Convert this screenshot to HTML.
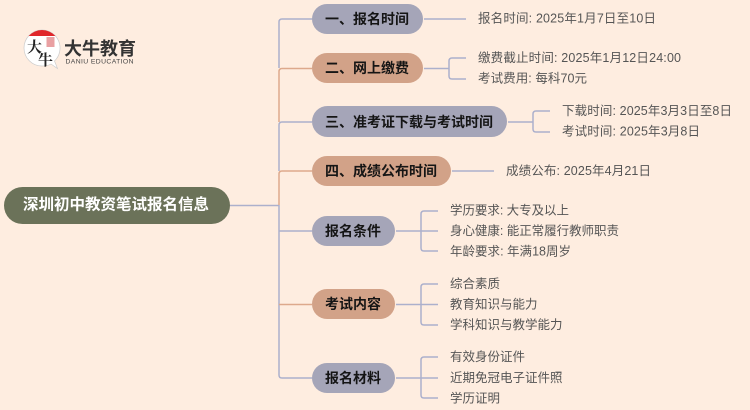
<!DOCTYPE html>
<html lang="zh"><head><meta charset="utf-8"><style>
html,body{margin:0;padding:0;background:#FEEDE0}
svg{display:block;filter:blur(.3px)}
text{font-family:"Liberation Sans","Noto Sans CJK SC",sans-serif}
.t{font-size:12.5px;fill:#555;dominant-baseline:central}
.b{font-size:14px;font-weight:700;fill:#151515;dominant-baseline:central}
.g{fill:none;stroke:#ACB0CC;stroke-width:1.5}
.o{fill:none;stroke:#DDA98C;stroke-width:1.5}
</style></head><body>
<svg width="750" height="410" viewBox="0 0 750 410" xmlns="http://www.w3.org/2000/svg">
<rect width="750" height="410" fill="#FEEDE0"/>
<path class="g" d="M230 205.500H279"/>
<path class="g" d="M312 19H282Q279 19 279 22V68"/>
<path class="o" d="M312 68.500H282Q279 68.500 279 71.500V122"/>
<path class="g" d="M312 122H282Q279 122 279 125V171"/>
<path class="o" d="M312 171H282Q279 171 279 174V205"/>
<path class="g" d="M279 205V375Q279 378 282 378H312M279 231H312"/>
<path class="o" d="M279 304.500H312"/>
<path class="g" d="M424 19H466M424 68.500H449M466 58H452Q449 58 449 61V76Q449 79 452 79H466"/>
<path class="g" d="M508 122H533M550 111H536Q533 111 533 114V129Q533 132 536 132H550"/>
<path class="g" d="M452 171H494"/>
<path class="g" d="M396 231H438M438 211H424Q421 211 421 214V248Q421 251 424 251H438"/>
<path class="g" d="M396 304.500H438M438 284H424Q421 284 421 287V322Q421 325 424 325H438"/>
<path class="g" d="M396 378H438M438 357H424Q421 357 421 360V395Q421 398 424 398H438"/>
<rect x="4" y="187" width="226" height="37" rx="18.500" fill="#6B7259"/>
<text x="23" y="205" dominant-baseline="central" font-size="15.500" font-weight="700" fill="#fff">深圳初中教资笔试报名信息</text>
<rect x="312" y="4" width="111" height="30" rx="15" fill="#A5A5B8"/>
<rect x="312" y="53" width="111" height="30" rx="15" fill="#D2A288"/>
<rect x="312" y="106" width="195" height="31" rx="15.500" fill="#A5A5B8"/>
<rect x="312" y="156" width="139" height="30" rx="15" fill="#D2A288"/>
<rect x="312" y="216" width="83" height="30" rx="15" fill="#A5A5B8"/>
<rect x="312" y="289" width="83" height="30" rx="15" fill="#D2A288"/>
<rect x="312" y="363" width="83" height="30" rx="15" fill="#A5A5B8"/>
<text class="b" x="325" y="19">一、报名时间</text>
<text class="b" x="325" y="68">二、网上缴费</text>
<text class="b" x="325" y="122">三、准考证下载与考试时间</text>
<text class="b" x="325" y="171">四、成绩公布时间</text>
<text class="b" x="325" y="231">报名条件</text>
<text class="b" x="325" y="304">考试内容</text>
<text class="b" x="325" y="378">报名材料</text>
<text class="t" x="478" y="18.500" textLength="178">报名时间: 2025年1月7日至10日</text>
<text class="t" x="478" y="58" textLength="203">缴费截止时间: 2025年1月12日24:00</text>
<text class="t" x="478" y="78.500" textLength="109">考试费用: 每科70元</text>
<text class="t" x="562" y="111" textLength="170">下载时间: 2025年3月3日至8日</text>
<text class="t" x="562" y="131.500" textLength="138">考试时间: 2025年3月8日</text>
<text class="t" x="506" y="171" textLength="145">成绩公布: 2025年4月21日</text>
<text class="t" x="450" y="210.500" textLength="119">学历要求: 大专及以上</text>
<text class="t" x="450" y="231" textLength="169">身心健康: 能正常履行教师职责</text>
<text class="t" x="450" y="251.500" textLength="121">年龄要求: 年满18周岁</text>
<text class="t" x="450" y="284">综合素质</text>
<text class="t" x="450" y="304.500">教育知识与能力</text>
<text class="t" x="450" y="325">学科知识与教学能力</text>
<text class="t" x="450" y="357">有效身份证件</text>
<text class="t" x="450" y="378">近期免冠电子证件照</text>
<text class="t" x="450" y="398.500">学历证明</text>
<path d="M42 30A18 18 0 0 0 42 66Q48 66 51 64L57.500 68.500L54.500 61A18 18 0 0 0 42 30Z" fill="#fff" stroke="#ccc" stroke-width=".7"/>
<path d="M28.600 36A18 18 0 0 1 55.400 36Z" fill="#E0262A"/>
<rect x="46.500" y="37" width="8" height="10" fill="#E0777A" opacity=".7"/>
<text x="27" y="52" font-size="15" fill="#222" style="font-family:'Noto Serif CJK SC',serif;font-weight:700">大</text>
<text x="38" y="65" font-size="15" fill="#222" style="font-family:'Noto Serif CJK SC',serif;font-weight:700">牛</text>
<text x="64" y="55" font-size="18" font-weight="700" fill="#333">大牛教育</text>
<text x="65.500" y="63.500" font-size="6.800" fill="#444" textLength="68">DANIU EDUCATION</text>
</svg>
</body></html>
